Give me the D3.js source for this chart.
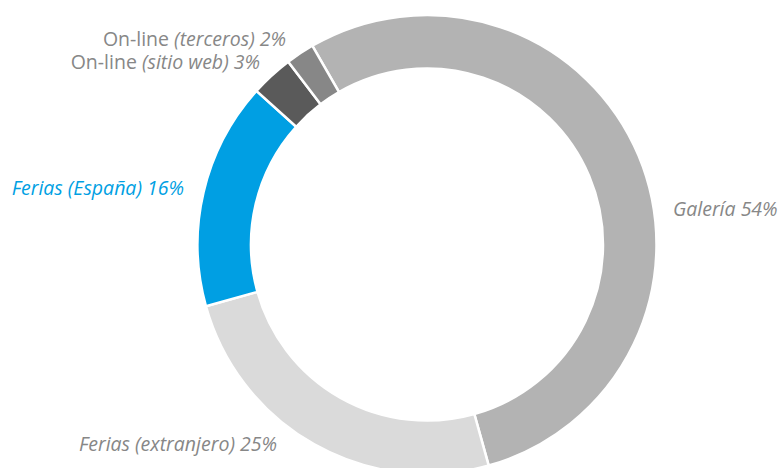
<!DOCTYPE html>
<html>
<head>
<meta charset="utf-8">
<script src="https://cdn.jsdelivr.net/npm/d3@7"></script>
<style>
  html, body { margin: 0; padding: 0; background: #fff; }
  svg { display: block; }
  text { font-family: "Open Sans", "Noto Sans", sans-serif; font-size: 19.5px; }
</style>
</head>
<body>
<svg id="chart" width="779" height="468"></svg>
<script>
// Sales channel shares (%), clockwise from the top-left
const channels = ["Galería", "Ferias (extranjero)", "Ferias (España)", "On-line (sitio web)", "On-line (terceros)"];
const shares = [54, 25, 16, 3, 2];
const sliceColors = ["#b3b3b3", "#dadada", "#009fe3", "#5a5a5a", "#878787"];

// Label text pieces: upright prefix, italic remainder
const labelPrefix = ["", "", "", "On-line ", "On-line "];
const labelItalic = ["Galería 54%", "Ferias (extranjero) 25%", "Ferias (España) 16%", "(sitio web) 3%", "(terceros) 2%"];
const labelColors = ["#878787", "#878787", "#009fe3", "#878787", "#878787"];
// Label anchor points and alignment
const labelX = [673, 277, 184, 260, 286];
const labelY = [216, 451, 195, 69, 46];
const labelAnchor = ["start", "end", "end", "end", "end"];

const width = 779, height = 468;
const cx = 427, cy = 244.5;
const outerR = 229.5, innerR = 176;
const startDeg = -30;

const svg = d3.select("#chart");

const data = channels.map((c, i) => ({ name: c, value: shares[i], color: sliceColors[i] }));

const pie = d3.pie()
  .value(d => d.value)
  .sort(null)
  .startAngle(startDeg * Math.PI / 180)
  .endAngle((startDeg + 360) * Math.PI / 180);

const arc = d3.arc().innerRadius(innerR).outerRadius(outerR);

const g = svg.append("g").attr("transform", `translate(${cx},${cy})`);

g.selectAll("path.slice")
  .data(pie(data))
  .join("path")
  .attr("class", "slice")
  .attr("d", arc)
  .attr("fill", d => d.data.color)
  .attr("stroke", "#fff")
  .attr("stroke-width", 2.5)
  .attr("stroke-linejoin", "miter");

// Labels
const labels = svg.append("g");
channels.forEach((c, i) => {
  const t = labels.append("text")
    .attr("x", labelX[i])
    .attr("y", labelY[i])
    .attr("text-anchor", labelAnchor[i])
    .attr("fill", labelColors[i]);
  if (labelPrefix[i]) t.append("tspan").text(labelPrefix[i]);
  t.append("tspan").attr("font-style", "italic").text(labelItalic[i]);
});
</script>
</body>
</html>
